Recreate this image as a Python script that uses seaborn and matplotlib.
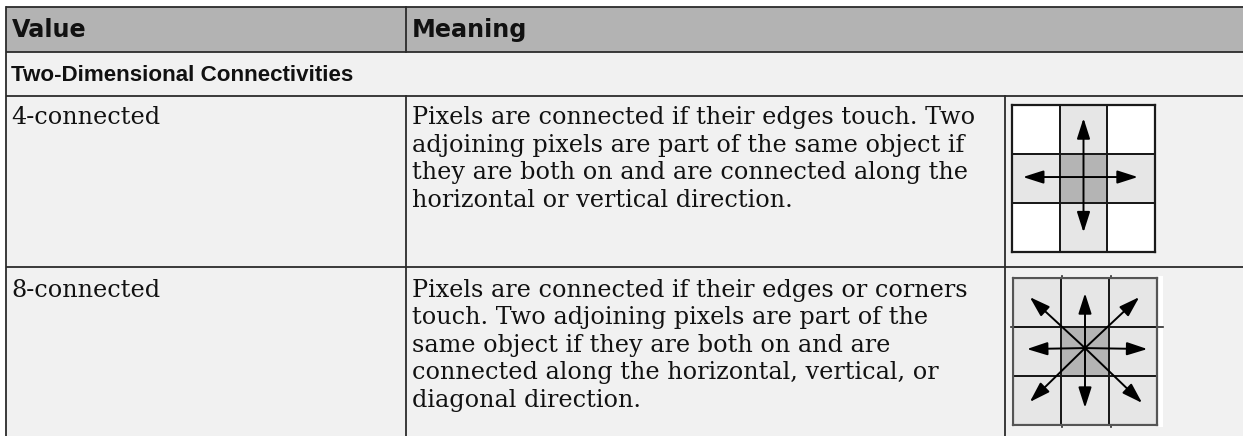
import matplotlib
matplotlib.use("Agg")
import matplotlib.pyplot as plt
import seaborn as sns
import numpy as np
from matplotlib.colors import ListedColormap
from matplotlib.patches import Rectangle

# table content
header_labels = ["Value", "Meaning"]
section_title = "Two-Dimensional Connectivities"
value_labels = ["4-connected", "8-connected"]
meaning_lines = [
    ["Pixels are connected if their edges touch. Two",
     "adjoining pixels are part of the same object if",
     "they are both on and are connected along the",
     "horizontal or vertical direction."],
    ["Pixels are connected if their edges or corners",
     "touch. Two adjoining pixels are part of the",
     "same object if they are both on and are",
     "connected along the horizontal, vertical, or",
     "diagonal direction."],
]

# neighbourhood pictures: 0 = outside, 1 = neighbour, 2 = centre pixel
grid_4 = [[0, 1, 0],
          [1, 2, 1],
          [0, 1, 0]]
grid_8 = [[1, 1, 1],
          [1, 2, 1],
          [1, 1, 1]]
# arrow tips in cell units (centre at 1.5, 1.5)
tips_4 = [(1.5, 0.27), (0.23, 1.47), (2.64, 1.47), (1.5, 2.6)]
tips_8 = [(1.5, 0.31), (0.29, 1.45), (2.8, 1.45), (1.5, 2.65),
          (0.35, 0.39), (2.63, 0.39), (0.35, 2.53), (2.69, 2.55)]
centre_4 = (1.5, 1.47)
centre_8 = (1.5, 1.43)

W, H = 1243, 436
HEAD_BG = "#b3b3b3"
BODY_BG = "#f1f1f1"
LINE = "#2b2b2b"
CELL_CMAP = ListedColormap(["#ffffff", "#e6e6e6", "#b4b4b4"])

fig = plt.figure(figsize=(W / 100, H / 100), dpi=100)
ax = fig.add_axes([0, 0, 1, 1])
ax.set_xlim(0, W)
ax.set_ylim(H, 0)
ax.axis("off")

# layout (pixels)
x_left, x_col2, x_col3 = 6, 406, 1005
y_top, y_head, y_sect = 7, 52, 96
row_tops = [96, 267]

ax.add_patch(Rectangle((x_left, y_top), W - x_left, y_head - y_top, color=HEAD_BG, lw=0))
ax.add_patch(Rectangle((x_left, y_head), W - x_left, H - y_head, color=BODY_BG, lw=0))

lw = 1.3
for y in [y_top, y_head, y_sect, row_tops[1]]:
    ax.plot([x_left, W], [y, y], color=LINE, lw=lw, solid_capstyle="butt")
ax.plot([x_left, x_left], [y_top, H], color=LINE, lw=lw)
ax.plot([x_col2, x_col2], [y_top, y_head], color=LINE, lw=lw)
ax.plot([x_col2, x_col2], [y_sect, H], color=LINE, lw=lw)
ax.plot([x_col3, x_col3], [y_sect, H], color=LINE, lw=lw)

head_font = dict(family="DejaVu Sans", weight="bold", size=17.2, color="#111111")
ax.text(x_left + 6, 37, header_labels[0], va="baseline", **head_font)
ax.text(x_col2 + 6, 37, header_labels[1], va="baseline", **head_font)
ax.text(x_left + 5, 81, section_title, va="baseline",
        family="Liberation Sans", weight="bold", size=16.1, color="#111111")

body_font = dict(family="DejaVu Serif", size=17.2, color="#111111")
line_step = 27.4
first_offsets = [28.3, 30]
for i, (val, lines) in enumerate(zip(value_labels, meaning_lines)):
    base = row_tops[i] + first_offsets[i]
    ax.text(x_left + 5, base, val, va="baseline", **body_font)
    for j, txt in enumerate(lines):
        ax.text(x_col2 + 6, base + j * line_step, txt, va="baseline", **body_font)

# white backing and stray lines of the 8-connected picture
ax.add_patch(Rectangle((1011, 276), 152, 151, color="white", lw=0))
ax.plot([1011, 1163], [327, 327], color=LINE, lw=1.2)
for x in [1062, 1111]:
    ax.plot([x, x], [276, 427], color=LINE, lw=1.2)


def draw_grid(grid, tips, centre, box, border):
    x0, y0, x1, y1 = box
    iax = fig.add_axes([x0 / W, 1 - y1 / H, (x1 - x0) / W, (y1 - y0) / H])
    sns.heatmap(np.array(grid), ax=iax, cmap=CELL_CMAP, vmin=-0.5, vmax=2.5,
                cbar=False, linewidths=1.2, linecolor="#1a1a1a",
                xticklabels=False, yticklabels=False)
    for s in iax.spines.values():
        s.set_visible(True)
        s.set_linewidth(1.6)
        s.set_color(border)
    for tip in tips:
        iax.annotate("", xy=tip, xytext=centre,
                     arrowprops=dict(arrowstyle="-|>,head_length=1.25,head_width=0.4",
                                     color="black", lw=1.4, shrinkA=0, shrinkB=0))


draw_grid(grid_4, tips_4, centre_4, (1012, 105, 1155, 252), "#1a1a1a")
draw_grid(grid_8, tips_8, centre_8, (1013, 278, 1157, 425), "#555555")

fig.savefig("out.png", dpi=100)
